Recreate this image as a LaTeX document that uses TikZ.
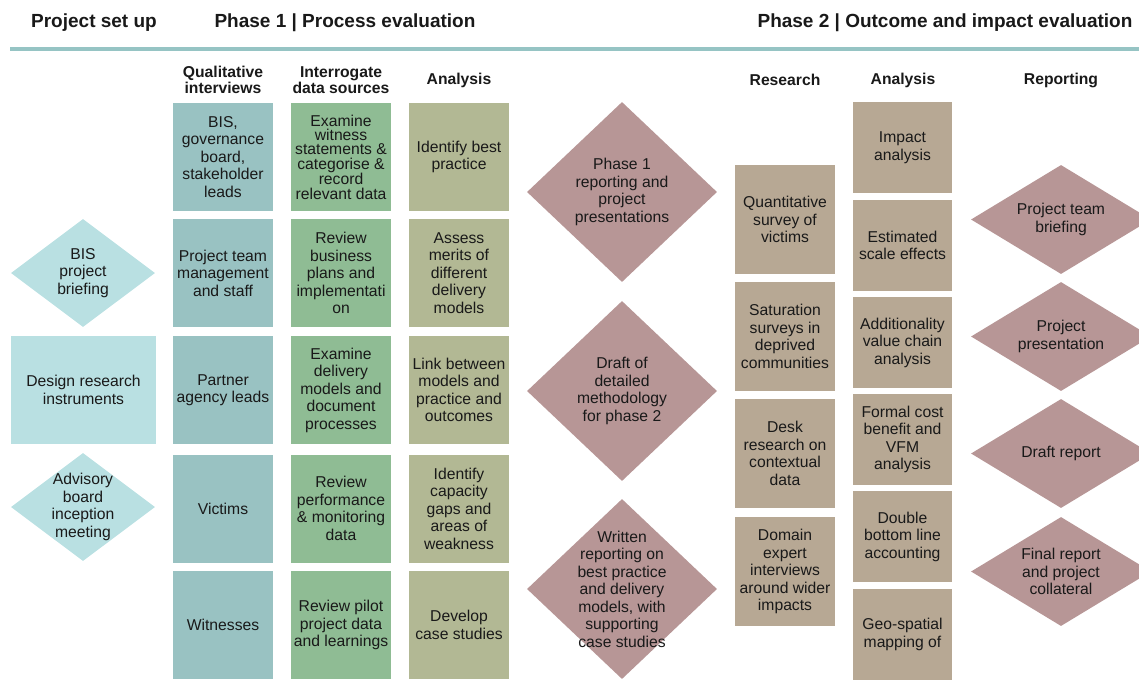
\documentclass[tikz,border=0pt]{standalone}
\usepackage{fontspec}
\setmainfont{Liberation Sans}
\usepackage{tikz}
\usetikzlibrary{shapes}
\usepackage{xcolor}
\definecolor{setupcolor}{RGB}{185, 224, 226}
\definecolor{rulecolor}{RGB}{150, 196, 196}
\definecolor{interviewcolor}{RGB}{153, 194, 194}
\definecolor{sourcecolor}{RGB}{143, 188, 148}
\definecolor{analysiscolor}{RGB}{178, 184, 148}
\definecolor{reportcolor}{RGB}{183, 150, 150}
\definecolor{researchcolor}{RGB}{183, 168, 148}

\begin{document}
\begin{tikzpicture}[
    x=1pt, y=-1pt,
    body/.style={font=\fontsize{15.7}{17.5}\selectfont, text=black!90, align=center, inner sep=0pt},
    box/.style={body, rectangle, minimum width=100pt, minimum height=108pt},
    qbox/.style={box, fill=interviewcolor},
    ibox/.style={box, fill=sourcecolor},
    abox/.style={box, fill=analysiscolor},
    rbox/.style={box, fill=researchcolor, minimum height=109pt},
    nbox/.style={box, fill=researchcolor, minimum width=99pt, minimum height=91pt},
    sbox/.style={box, fill=setupcolor, minimum width=145pt},
    sdia/.style={diamond, fill=setupcolor, inner sep=0pt, minimum width=144pt, minimum height=108pt},
    mdia/.style={diamond, fill=reportcolor, inner sep=0pt, minimum width=190pt, minimum height=180pt},
    pdia/.style={diamond, fill=reportcolor, inner sep=0pt, minimum width=180pt, minimum height=109pt},
    dtext/.style={body},
    phasehead/.style={font=\fontsize{19}{22}\selectfont\bfseries, text=black!90, inner sep=0pt},
    colhead/.style={font=\fontsize{15.7}{16}\selectfont\bfseries, text=black!90, align=center, inner sep=0pt}
]
    \useasboundingbox (0,0) rectangle (1139,689);
    \clip (0,0) rectangle (1139,689);

    % Phase headings
    \node[phasehead] (hs) at (94, 23) {Project set up};
    \node[phasehead] (h1) at (345, 23) {Phase 1 | Process evaluation};
    \node[phasehead] (h2) at (945, 23) {Phase 2 | Outcome and impact evaluation};
    \draw[rulecolor, line width=4pt] (10, 49) -- (1139, 49);

    % Column headings
    \node[colhead] (cq) at (223, 80) {Qualitative\\interviews};
    \node[colhead] (ci) at (341, 80) {Interrogate\\data sources};
    \node[colhead] (ca) at (459, 80) {Analysis};
    \node[colhead] (cr) at (785, 80) {Research};
    \node[colhead] (cn) at (903, 80) {Analysis};
    \node[colhead] (cp) at (1061, 80) {Reporting};

    % Set up nodes
    \node[sdia] (s1) at (83, 273) {};
    \node[dtext] at (s1) {BIS\\project\\briefing};
    \node[sbox] (s2) at (83.5, 390) {Design research\\instruments};
    \node[sdia] (s3) at (83, 507) {};
    \node[dtext] at (s3) {Advisory\\board\\inception\\meeting};

    % Qualitative interview nodes
    \node[qbox] (q1) at (223, 157) {BIS,\\governance\\board,\\stakeholder\\leads};
    \node[qbox] (q2) at (223, 273) {Project team\\management\\and staff};
    \node[qbox] (q3) at (223, 390) {Partner\\agency leads};
    \node[qbox] (q4) at (223, 508.5) {Victims};
    \node[qbox] (q5) at (223, 625) {Witnesses};

    % Data source nodes
    \node[ibox, font=\fontsize{15.7}{14.4}\selectfont] (i1) at (341, 157) {Examine\\witness\\statements \&\\categorise \&\\record\\relevant data};
    \node[ibox] (i2) at (341, 273) {Review\\business\\plans and\\implementati\\on};
    \node[ibox] (i3) at (341, 390) {Examine\\delivery\\models and\\document\\processes};
    \node[ibox] (i4) at (341, 508.5) {Review\\performance\\\& monitoring\\data};
    \node[ibox] (i5) at (341, 625) {Review pilot\\project data\\and learnings};

    % Phase 1 analysis nodes
    \node[abox] (a1) at (459, 157) {Identify best\\practice};
    \node[abox] (a2) at (459, 273) {Assess\\merits of\\different\\delivery\\models};
    \node[abox] (a3) at (459, 390) {Link between\\models and\\practice and\\outcomes};
    \node[abox] (a4) at (459, 508.5) {Identify\\capacity\\gaps and\\areas of\\weakness};
    \node[abox] (a5) at (459, 625) {Develop\\case studies};

    % Phase 1 output nodes
    \node[mdia] (m1) at (622, 192) {};
    \node[dtext] at (m1) {Phase 1\\reporting and\\project\\presentations};
    \node[mdia] (m2) at (622, 391) {};
    \node[dtext] at (m2) {Draft of\\detailed\\methodology\\for phase 2};
    \node[mdia] (m3) at (622, 589) {};
    \node[dtext] at (m3) {Written\\reporting on\\best practice\\and delivery\\models, with\\supporting\\case studies};

    % Research nodes
    \node[rbox] (r1) at (785, 219.5) {Quantitative\\survey of\\victims};
    \node[rbox] (r2) at (785, 336.5) {Saturation\\surveys in\\deprived\\communities};
    \node[rbox] (r3) at (785, 453.5) {Desk\\research on\\contextual\\data};
    \node[rbox] (r4) at (785, 571.5) {Domain\\expert\\interviews\\around wider\\impacts};

    % Phase 2 analysis nodes
    \node[nbox] (n1) at (902.5, 147.5) {Impact\\analysis};
    \node[nbox] (n2) at (902.5, 245.5) {Estimated\\scale effects};
    \node[nbox] (n3) at (902.5, 342.5) {Additionality\\value chain\\analysis};
    \node[nbox] (n4) at (902.5, 439.5) {Formal cost\\benefit and\\VFM\\analysis};
    \node[nbox] (n5) at (902.5, 536.5) {Double\\bottom line\\accounting};
    \node[nbox] (n6) at (902.5, 634.5) {Geo-spatial\\mapping of};

    % Reporting nodes
    \node[pdia] (p1) at (1061, 219.5) {};
    \node[dtext] at (p1) {Project team\\briefing};
    \node[pdia] (p2) at (1061, 336.5) {};
    \node[dtext] at (p2) {Project\\presentation};
    \node[pdia] (p3) at (1061, 453.5) {};
    \node[dtext] at (p3) {Draft report};
    \node[pdia] (p4) at (1061, 571.5) {};
    \node[dtext] at (p4) {Final report\\and project\\collateral};
\end{tikzpicture}
\end{document}
